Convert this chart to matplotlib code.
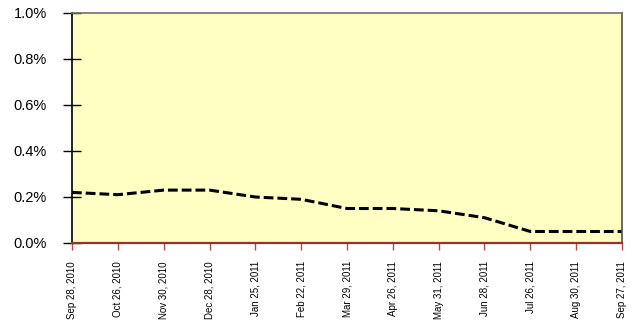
import matplotlib
matplotlib.use("Agg")
import matplotlib.pyplot as plt
from matplotlib.ticker import FuncFormatter

plt.rcParams['font.family'] = ['Liberation Sans', 'DejaVu Sans']

dates = ["Sep 28, 2010", "Oct 26, 2010", "Nov 30, 2010", "Dec 28, 2010",
         "Jan 25, 2011", "Feb 22, 2011", "Mar 29, 2011", "Apr 26, 2011",
         "May 31, 2011", "Jun 28, 2011", "Jul 26, 2011", "Aug 30, 2011",
         "Sep 27, 2011"]
rate_pct = [0.22, 0.21, 0.23, 0.23, 0.20, 0.19, 0.15, 0.15, 0.14, 0.11,
            0.05, 0.05, 0.05]
y_ticks = [0.0, 0.2, 0.4, 0.6, 0.8, 1.0]

fig = plt.figure(figsize=(6.35, 3.24), dpi=100)
ax = fig.add_axes([72 / 635, 81 / 324, 550 / 635, 230 / 324])
ax.set_facecolor("#FFFFC4")

x = list(range(len(dates)))
ax.plot(x, rate_pct, color="black", linestyle=(0, (3.2, 1.3)), linewidth=2.2)

ax.set_xlim(0, len(dates) - 1)
ax.set_ylim(0, 1.0)
ax.set_xticks(x)
ax.set_xticklabels(dates, rotation=90, fontsize=7)
ax.set_yticks(y_ticks)
ax.yaxis.set_major_formatter(FuncFormatter(lambda v, p: f"{v:.1f}%"))
ax.tick_params(axis="y", direction="inout", length=13, width=1,
               labelsize=10.5, pad=11.5, color="black")
ax.tick_params(axis="x", direction="out", length=5, width=1,
               color="#B84848", pad=8)

ax.spines["left"].set_color("black")
ax.spines["left"].set_linewidth(1.2)
ax.spines["bottom"].set_color("#8E3434")
ax.spines["bottom"].set_linewidth(1.6)
ax.spines["top"].set_color("#707070")
ax.spines["top"].set_linewidth(1.2)
ax.spines["right"].set_color("#505050")
ax.spines["right"].set_linewidth(1.2)

fig.savefig("out.png", dpi=100)
